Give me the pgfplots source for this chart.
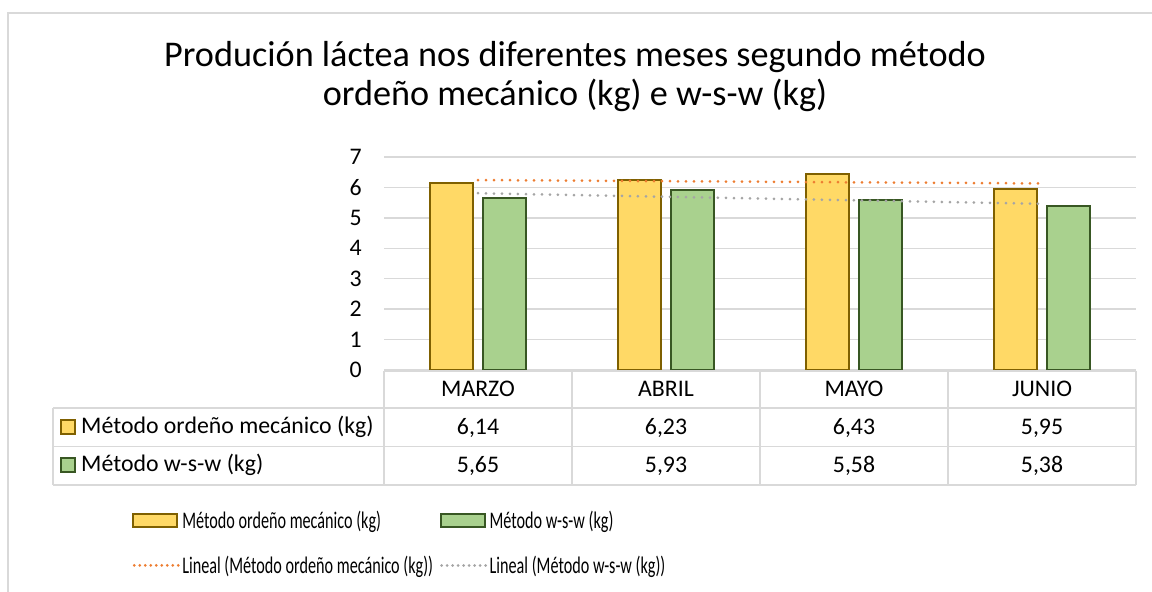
\documentclass[border=0pt]{standalone}
\usepackage{fontspec}
\setmainfont{Carlito}
\newfontfamily\legfont[FakeStretch=0.68]{Carlito}
\usepackage{pgfplots}
\pgfplotsset{compat=1.18}
\definecolor{barY}{HTML}{FFD966}
\definecolor{barYe}{HTML}{7F6000}
\definecolor{barG}{HTML}{A9D18E}
\definecolor{barGe}{HTML}{385723}
\definecolor{trO}{HTML}{ED7D31}
\definecolor{trG}{HTML}{A5A5A5}
\definecolor{gridc}{HTML}{D9D9D9}
\newcommand{\bodyfont}{\fontsize{23.8}{28}\selectfont}
\newcommand{\titlefont}{\fontsize{36.2}{40}\selectfont}
\begin{document}
\begin{tikzpicture}[x=1pt,y=1pt]
\useasboundingbox (0,0) rectangle (1152,592);
\draw[gridc, line width=1.5pt] (8,0) -- (8,579) -- (1152,579);
% title
\node[anchor=base, font=\titlefont, inner sep=0pt] at (575,525.5) {Produción láctea nos diferentes meses segundo método};
\node[anchor=base, font=\titlefont, inner sep=0pt] at (575,486) {ordeño mecánico (kg) e w-s-w (kg)};
\begin{axis}[
  at={(384pt,222pt)}, anchor=south west,
  scale only axis, width=752pt, height=213pt,
  xmin=0.5, xmax=4.5, ymin=0, ymax=7,
  clip=false,
  axis line style={draw=none},
  xtick={1,2,3,4},
  xticklabels={MARZO,ABRIL,MAYO,JUNIO},
  ytick={0,1,2,3,4,5,6,7},
  major tick length=0pt,
  ymajorgrids, major grid style={gridc, line width=1.5pt},
  /pgf/number format/assume math mode=true,
  ticklabel style={font=\bodyfont, inner sep=0pt},
  yticklabel style={anchor=east, xshift=-22pt},
  xticklabel style={anchor=base, yshift=-27pt},
  legend columns=2,
  legend cell align=left,
  legend style={at={(-0.335,-0.812)}, anchor=west, draw=none, fill=none,
    font=\legfont\bodyfont, inner sep=0pt,
    nodes={inner sep=2.5pt},
    /tikz/every even column/.append style={column sep=4pt},
    row sep=21pt},
]
\addplot[ybar, bar width=43pt, bar shift=-26.5pt, fill=barY, draw=barYe, line width=2pt,
  legend image code/.code={\draw[fill=barY, draw=barYe, line width=2pt] (0pt,-6.5pt) rectangle (44pt,6.5pt);}]
  coordinates {(1,6.14) (2,6.23) (3,6.43) (4,5.95)};
\addlegendentry{Método ordeño mecánico (kg)}
\addplot[ybar, bar width=43pt, bar shift=26.5pt, fill=barG, draw=barGe, line width=2pt,
  legend image code/.code={\draw[fill=barG, draw=barGe, line width=2pt] (0pt,-6.5pt) rectangle (44pt,6.5pt);}]
  coordinates {(1,5.65) (2,5.93) (3,5.58) (4,5.38)};
\addlegendentry{Método w-s-w (kg)}
\addplot[trO, line width=3pt, line cap=round, dash pattern=on 0pt off 8pt, mark=none,
  legend image code/.code={\draw[trO, line width=3pt, line cap=round, dash pattern=on 0pt off 5.5pt] (1pt,0pt) -- (45pt,0pt);}]
  coordinates {(1,6.2425) (4,6.1315)};
\addlegendentry{Lineal (Método ordeño mecánico (kg))}
\addplot[trG, line width=3pt, line cap=round, dash pattern=on 0pt off 8pt, mark=none,
  legend image code/.code={\draw[trG, line width=3pt, line cap=round, dash pattern=on 0pt off 5.5pt] (1pt,0pt) -- (45pt,0pt);}]
  coordinates {(1,5.809) (4,5.461)};
\addlegendentry{Lineal (Método w-s-w (kg))}
% data table values
\node[anchor=base, font=\bodyfont, inner sep=0pt, yshift=-64pt] at (axis cs:1,0) {6,14};
\node[anchor=base, font=\bodyfont, inner sep=0pt, yshift=-64pt] at (axis cs:2,0) {6,23};
\node[anchor=base, font=\bodyfont, inner sep=0pt, yshift=-64pt] at (axis cs:3,0) {6,43};
\node[anchor=base, font=\bodyfont, inner sep=0pt, yshift=-64pt] at (axis cs:4,0) {5,95};
\node[anchor=base, font=\bodyfont, inner sep=0pt, yshift=-102pt] at (axis cs:1,0) {5,65};
\node[anchor=base, font=\bodyfont, inner sep=0pt, yshift=-102pt] at (axis cs:2,0) {5,93};
\node[anchor=base, font=\bodyfont, inner sep=0pt, yshift=-102pt] at (axis cs:3,0) {5,58};
\node[anchor=base, font=\bodyfont, inner sep=0pt, yshift=-102pt] at (axis cs:4,0) {5,38};
\end{axis}
% data table grid
\begin{scope}[gridc, line width=1.5pt]
\draw (384,221) -- (1136,221);
\draw (53,184) -- (1136,184);
\draw (53,145.5) -- (1136,145.5);
\draw (53,107) -- (1136,107);
\draw (53,184) -- (53,107);
\foreach \x in {384,572,760,948,1136} \draw (\x,221) -- (\x,107);
\end{scope}
\draw[fill=barY, draw=barYe, line width=1.5pt] (61,158) rectangle (75,172);
\node[anchor=base west, font=\bodyfont, inner sep=0pt] at (81,158) {Método ordeño mecánico (kg)};
\draw[fill=barG, draw=barGe, line width=1.5pt] (61,120) rectangle (75,134);
\node[anchor=base west, font=\bodyfont, inner sep=0pt] at (81,120) {Método w-s-w (kg)};
\end{tikzpicture}
\end{document}
